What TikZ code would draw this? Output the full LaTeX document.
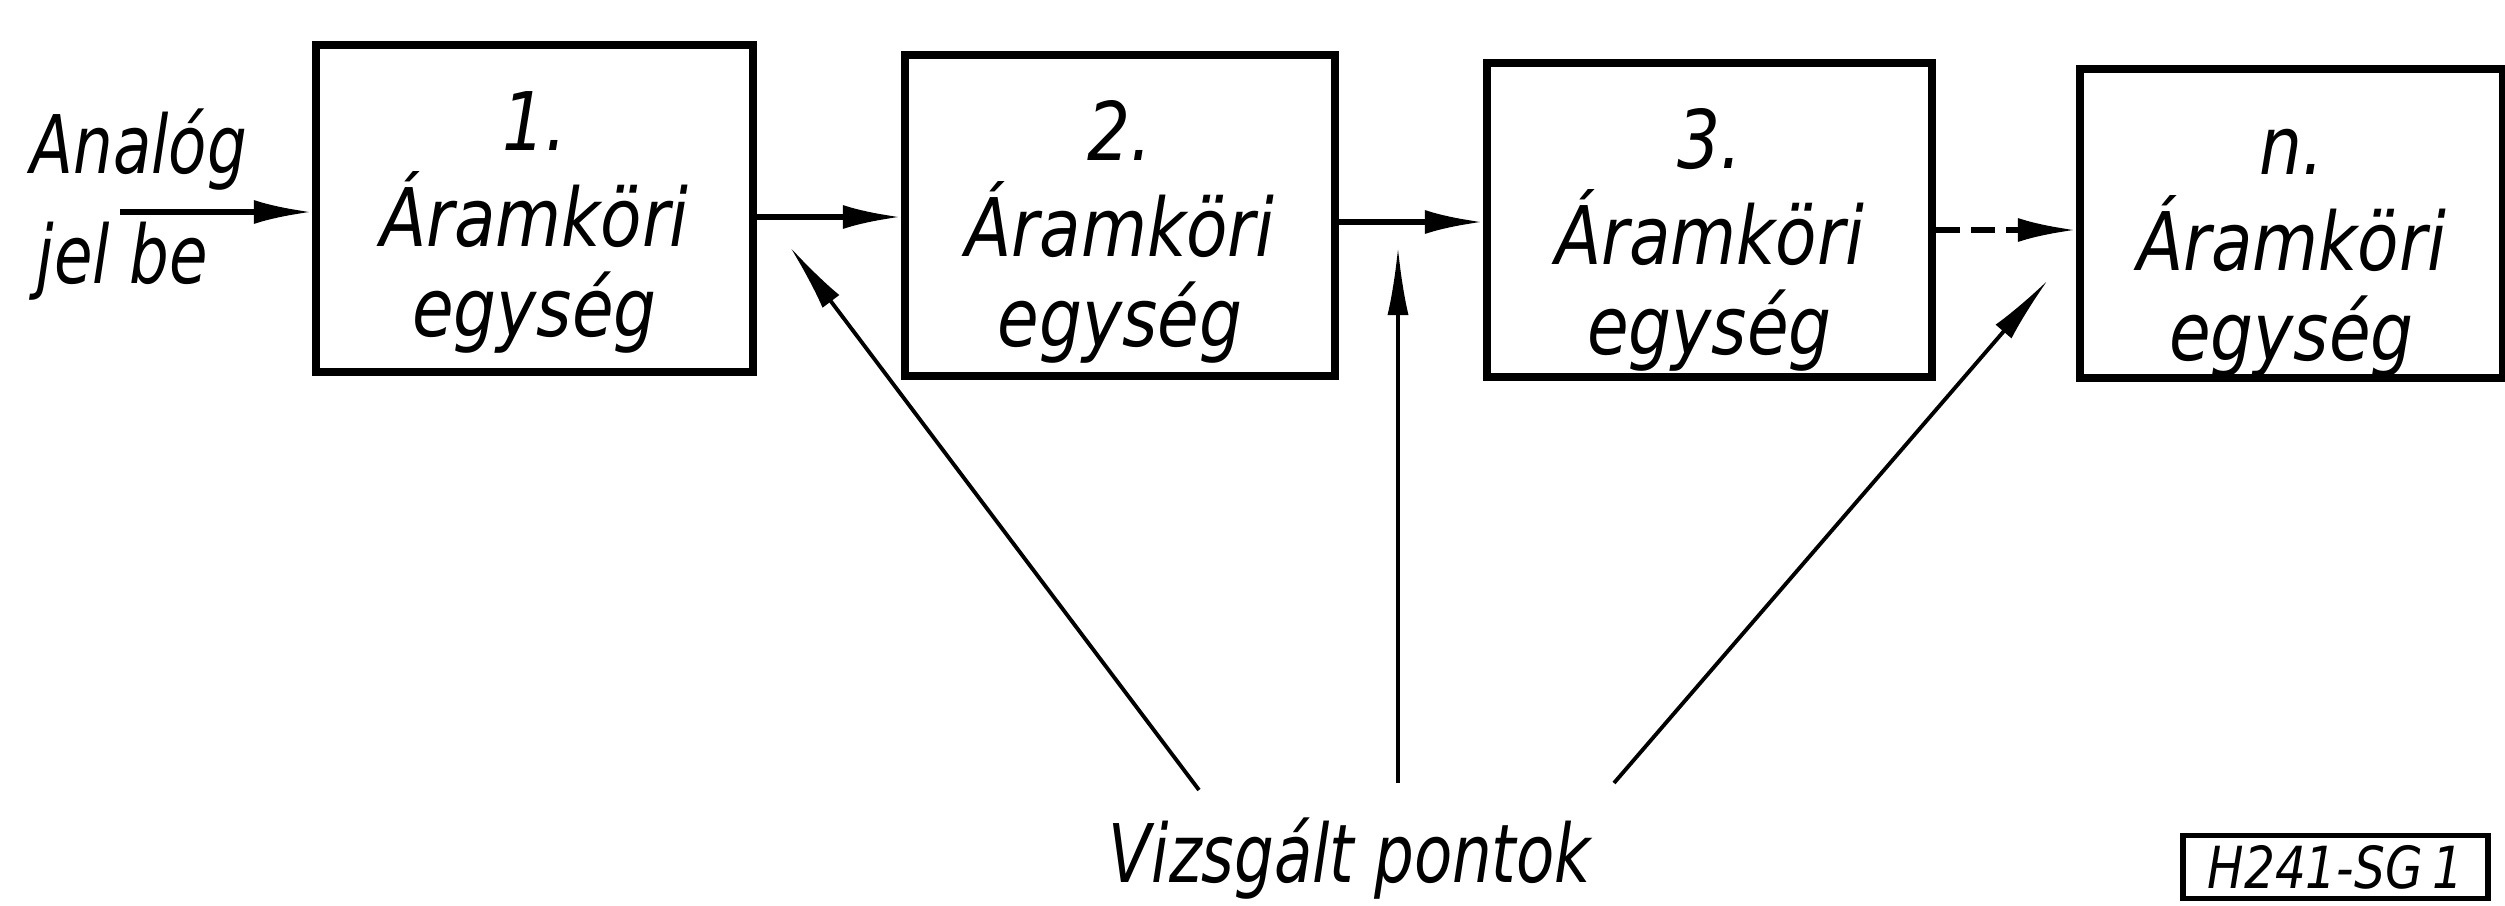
\documentclass[tikz,border=0pt]{standalone}
\usepackage{fontspec}
\newfontfamily\tech{DejaVu Sans Condensed Oblique}[FakeStretch=0.93]
\newfontfamily\technarrow{DejaVu Sans Condensed Oblique}[FakeStretch=0.86]
\usetikzlibrary{arrows.meta}
\begin{document}
\begin{tikzpicture}[x=0.01cm,y=-0.01cm,
  unit/.style={draw,line width=2.3pt,inner sep=0pt},
  txt/.style={anchor=base,inner sep=0pt,font=\tech\fontsize{23}{27}\selectfont},
  lbl/.style={anchor=base,inner sep=0pt,font=\technarrow\fontsize{23}{27}\selectfont},
  flow/.style={line width=1.5pt,-{Latex[length=0.58cm,width=0.24cm]}},
  probe/.style={line width=1.1pt,-{Latex[length=0.68cm,width=0.21cm]}},
  flowdash/.style={flow,dash pattern=on 0.24cm off 0.11cm}]
\useasboundingbox (0,0) rectangle (2505,906);

% the four circuit units
\node[unit,minimum width=4.37cm,minimum height=3.27cm] (u1) at (534.5,208.5) {};
\node[unit,minimum width=4.30cm,minimum height=3.21cm] (u2) at (1120,215.5) {};
\node[unit,minimum width=4.45cm,minimum height=3.14cm] (u3) at (1709.5,220) {};
\node[unit,minimum width=4.23cm,minimum height=3.09cm] (un) at (2291.5,223.5) {};

% unit captions
\foreach \u/\k in {u1/1.,u2/2.,u3/3.,un/n.}{
  \node[txt] (\u-a) at ([yshift=-1.10cm]\u.north) {\k};
  \node[txt] (\u-b) at ([yshift=-2.06cm]\u.north) {Áramköri};
  \node[txt] (\u-c) at ([yshift=-2.95cm]\u.north) {egység};
}

% input label
\node[lbl,anchor=base west] (in1) at (30,173) {Analóg};
\node[lbl,anchor=base west] (in2) at (36,283) {jel be};

% signal path
\coordinate (src) at (120,212);
\draw[flow] (src) -- (u1.west |- src);
\draw[flow] (u1.east |- 0,217) -- (u2.west |- 0,217);
\draw[flow] (u2.east |- 0,222) -- (u3.west |- 0,222);
\draw[flowdash] (u3.east |- 0,230) -- (un.west |- 0,230);

% test points
\node[lbl] (tp) at (1350,882) {Vizsgált pontok};
\coordinate (t1) at (1199,790);
\coordinate (t2) at (1398,783);
\coordinate (t3) at (1614,783);
\coordinate (p1) at (790,247);
\coordinate (p2) at (1398,247);
\coordinate (p3) at (2048,280);
\draw[probe] (t1) -- (p1);
\draw[probe] (t2) -- (p2);
\draw[probe] (t3) -- (p3);

% drawing number
\node[draw,line width=1.6pt,minimum width=3.05cm,minimum height=0.63cm,inner sep=0pt,
  font=\tech\fontsize{16.5}{18}\selectfont] (ref) at (2335.5,867) {H241-SG\,1};
\end{tikzpicture}
\end{document}
